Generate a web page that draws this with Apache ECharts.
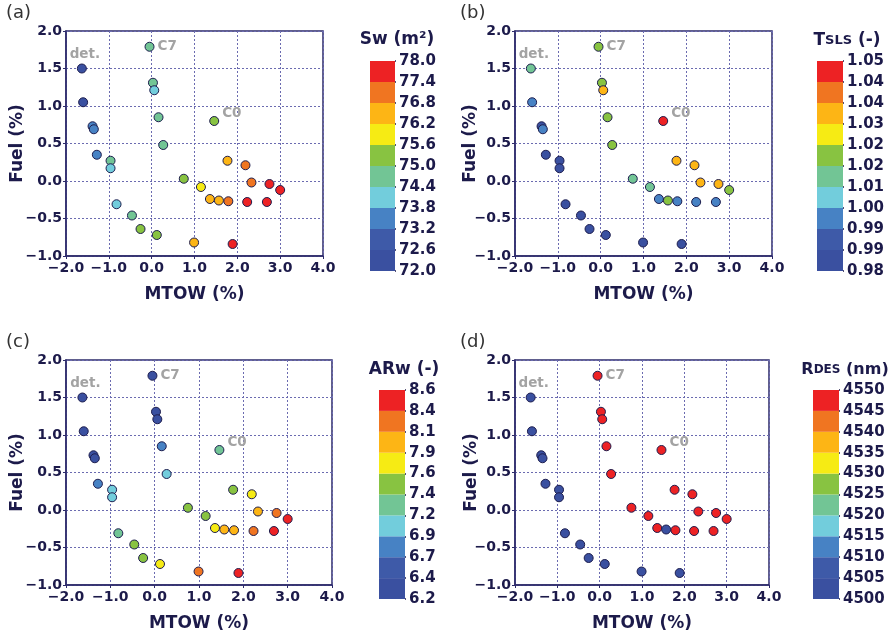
<!DOCTYPE html>
<html><head><meta charset="utf-8">
<script src="https://cdn.jsdelivr.net/npm/echarts@6/dist/echarts.min.js"></script>
<style>html,body{margin:0;padding:0;background:#fff}#c{width:894px;height:636px}</style>
</head><body><div id="c"></div>
<script>
// ---- data ----
const mtow = [-1.63,-1.60,-1.38,-1.35,-1.28,-0.96,-0.96,-0.82,-0.46,-0.26,-0.05,0.03,0.06,0.12,0.16,0.27,0.75,0.99,1.15,1.36,1.46,1.57,1.77,1.79,1.89,2.19,2.23,2.33,2.69,2.75,3.00];
const fuel = [1.50,1.05,0.73,0.69,0.35,0.27,0.17,-0.31,-0.46,-0.64,1.79,1.31,1.21,-0.72,0.85,0.48,0.03,-0.82,-0.08,-0.24,0.80,-0.26,0.27,-0.27,-0.84,0.21,-0.28,-0.02,-0.28,-0.04,-0.12];
const pointLabels = ['det.','','','','','','','','','','C7','','','','','','','','','','C0','','','','','','','','','',''];
const sw   = [72.3,72.3,73.5,73.5,73.5,74.7,74.1,74.1,74.7,75.3,74.7,74.7,74.1,75.3,74.7,74.7,75.3,76.5,75.9,76.5,75.3,76.5,76.5,77.1,77.7,77.1,77.7,77.1,77.7,77.7,77.7];
const tsls = [1.0115,0.9975,0.9835,0.9975,0.9835,0.9835,0.9835,0.9835,0.9835,0.9835,1.0185,1.0185,1.0325,0.9835,1.0185,1.0185,1.0115,0.9835,1.0115,0.9975,1.0465,1.0185,1.0325,0.9975,0.9835,1.0325,0.9975,1.0325,0.9975,1.0325,1.0185];
const arw  = [6.32,6.32,6.32,6.32,6.80,7.04,7.04,7.28,7.52,7.52,6.32,6.32,6.32,7.76,6.80,7.04,7.52,8.24,7.52,7.76,7.28,8.00,7.52,8.00,8.48,7.76,8.24,8.00,8.48,8.24,8.48];
const rdes = [4502.5,4502.5,4502.5,4502.5,4502.5,4502.5,4502.5,4502.5,4502.5,4502.5,4547.5,4547.5,4547.5,4502.5,4547.5,4547.5,4547.5,4502.5,4547.5,4547.5,4547.5,4502.5,4547.5,4547.5,4502.5,4547.5,4547.5,4547.5,4547.5,4547.5,4547.5];
const swRange = [72.0, 78.0];
const tslsRange = [0.98, 1.05];
const arwRange = [6.2, 8.6];
const rdesRange = [4500, 4550];
const swTicks   = ['72.0','72.6','73.2','73.8','74.4','75.0','75.6','76.2','76.8','77.4','78.0'];
const tslsTicks = ['0.98','0.99','0.99','1.00','1.01','1.02','1.02','1.03','1.04','1.04','1.05'];
const arwTicks  = ['6.2','6.4','6.7','6.9','7.2','7.4','7.6','7.9','8.1','8.4','8.6'];
const rdesTicks = ['4500','4505','4510','4515','4520','4525','4530','4535','4540','4545','4550'];
const xRange = [-2, 4];
const yRange = [-1, 2];

// ---- styles ----
const binColors = ['#3a50a0','#3e5aa8','#4782c4','#72cddc','#72c595','#88c341','#f6eb14','#fdb515','#f07521','#ed2224'];
const FONT = 'DejaVu Sans';
const INK = '#1c1a4a';
const FRAME = '#2d2a6a';

const panels = [
  {vals: sw,   range: swRange,   ticks: swTicks,   tag:'(a)', tagPos:[6,4],
   grid:{left:66,top:31,width:257,height:225}, cb:{left:370,top:61,width:25,height:210},
   title:{text:'{b|Sw (m²)}', x:397, y:31, fs:17}, yGap:40},
  {vals: tsls, range: tslsRange, ticks: tslsTicks, tag:'(b)', tagPos:[460,4],
   grid:{left:515,top:31,width:257,height:225}, cb:{left:817,top:61,width:26,height:210},
   title:{text:'{b|T}{s|SLS}{b| (-)}', x:847, y:32, fs:17}, yGap:36},
  {vals: arw,  range: arwRange,  ticks: arwTicks,  tag:'(c)', tagPos:[6,333],
   grid:{left:66,top:360,width:266,height:225}, cb:{left:379,top:390,width:26,height:209},
   title:{text:'{b|ARw (-)}', x:404, y:361, fs:17}, yGap:40},
  {vals: rdes, range: rdesRange, ticks: rdesTicks, tag:'(d)', tagPos:[460,333],
   grid:{left:515,top:360,width:254,height:225}, cb:{left:813,top:390,width:26,height:209},
   title:{text:'{b|R}{s|DES}{b| (nm)}', x:845, y:362, fs:16}, yGap:35}
];

const grids = [], xAxes = [], yAxes = [], series = [], visualMaps = [], titles = [];
const labelStyle = {color:'#a3a3a3', fontWeight:'bold', fontSize:13.5, fontFamily:FONT};
function pointLabel(t){
  if (t === 'det.') return {show:true, formatter:t, position:'top', distance:2, offset:[3,0], ...labelStyle};
  if (t === 'C7') return {show:true, formatter:t, position:'right', distance:3, ...labelStyle};
  if (t === 'C0') return {show:true, formatter:t, position:'right', distance:3, offset:[0,-8], ...labelStyle};
  return {show:false};
}
const fmt = v => (v < 0 ? '\u2212' + Math.abs(v).toFixed(1) : v.toFixed(1));

panels.forEach((p, i) => {
  const gi = grids.length;
  grids.push({...p.grid, show:true, borderColor:FRAME, borderWidth:1.5, backgroundColor:'transparent'});
  xAxes.push({gridIndex:gi, type:'value', min:xRange[0], max:xRange[1], interval:1,
    name:'MTOW (%)', nameLocation:'middle', nameGap:30, nameMoveOverlap:false,
    nameTextStyle:{fontFamily:FONT, fontWeight:'bold', fontSize:17, color:INK},
    axisLine:{show:true, onZero:false, lineStyle:{color:FRAME, width:1.5}},
    axisTick:{show:true, length:3, lineStyle:{color:FRAME}},
    axisLabel:{formatter:fmt, fontFamily:FONT, fontWeight:'bold', fontSize:14, color:INK, margin:5, showMinLabel:true, showMaxLabel:true},
    splitLine:{show:true, lineStyle:{color:'#6b6bb0', type:[2,2], width:1}}});
  yAxes.push({gridIndex:gi, type:'value', min:yRange[0], max:yRange[1], interval:0.5,
    name:'Fuel (%)', nameLocation:'middle', nameGap:p.yGap, nameMoveOverlap:false,
    nameTextStyle:{fontFamily:FONT, fontWeight:'bold', fontSize:17, color:INK},
    axisLine:{show:true, onZero:false, lineStyle:{color:FRAME, width:1.5}},
    axisTick:{show:true, length:3, lineStyle:{color:FRAME}},
    axisLabel:{formatter:fmt, fontFamily:FONT, fontWeight:'bold', fontSize:14, color:INK, margin:4, showMinLabel:true, showMaxLabel:true},
    splitLine:{show:true, lineStyle:{color:'#6b6bb0', type:[2,2], width:1}}});
  const si = series.length;
  series.push({type:'scatter', xAxisIndex:gi, yAxisIndex:gi, symbolSize:9,
    itemStyle:{borderColor:'#1d1d4d', borderWidth:1, opacity:1},
    data: mtow.map((x, k) => ({value:[x, fuel[k], p.vals[k]], label: pointLabel(pointLabels[k])})),
    animation:false, silent:true});
  const step = (p.range[1] - p.range[0]) / binColors.length;
  visualMaps.push({type:'piecewise', show:false, seriesIndex:si, dimension:2,
    pieces: binColors.map((c, k) => ({gte: p.range[0] + step*k, lt: p.range[0] + step*(k+1) + (k === binColors.length-1 ? 1e-9 : 0), color:c}))});
  // colorbar grid
  const ci = grids.length;
  grids.push({...p.cb, show:false});
  xAxes.push({gridIndex:ci, type:'category', data:[''], show:false, boundaryGap:true});
  yAxes.push({gridIndex:ci, type:'value', min:0, max:binColors.length, interval:1, position:'right',
    axisLine:{show:false}, splitLine:{show:false},
    axisTick:{show:true, length:1, lineStyle:{color:INK, width:1.5}},
    axisLabel:{formatter: v => p.ticks[Math.round(v)], fontFamily:FONT, fontWeight:'bold', fontSize:15, color:INK, margin:4, showMinLabel:true, showMaxLabel:true}});
  binColors.forEach((c, k) => {
    series.push({type:'bar', xAxisIndex:ci, yAxisIndex:ci, stack:'cb'+i, barWidth:'100%',
      data:[1], itemStyle:{color:c}, silent:true, animation:false});
  });
  titles.push({text:p.tag, left:p.tagPos[0], top:p.tagPos[1], padding:0,
    textStyle:{fontFamily:FONT, fontWeight:'normal', fontSize:18, color:'#333'}});
  titles.push({text:p.title.text, left:p.title.x, top:p.title.y, textAlign:'center', padding:0,
    textStyle:{rich:{b:{fontFamily:FONT, fontWeight:'bold', fontSize:p.title.fs, color:INK},
                     s:{fontFamily:FONT, fontWeight:'bold', fontSize:p.title.fs - 4, color:INK}}}});
});

const chart = echarts.init(document.getElementById('c'), null, {renderer:'canvas'});
chart.setOption({
  animation:false,
  textStyle:{fontFamily:FONT},
  title: titles,
  grid: grids, xAxis: xAxes, yAxis: yAxes,
  visualMap: visualMaps,
  series: series
});
</script></body></html>
